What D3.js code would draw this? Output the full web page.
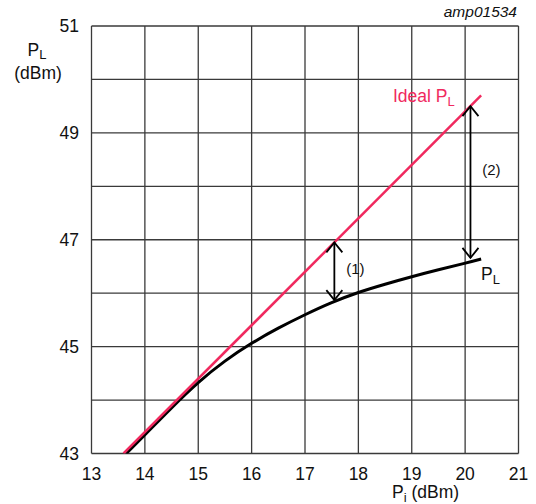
<!DOCTYPE html>
<html>
<head>
<meta charset="utf-8">
<script src="https://cdn.jsdelivr.net/npm/d3@7"></script>
<style>
  body { margin: 0; background: #fff; }
  svg { display: block; font-family: Arial, "Liberation Sans", sans-serif; }
</style>
</head>
<body>
<svg width="536" height="504"></svg>
<script>
// input power (dBm) and output power (dBm)
const xTicks = [13, 14, 15, 16, 17, 18, 19, 20, 21];
const yLabels = [43, 45, 47, 49, 51];
const yGrid = [43, 44, 45, 46, 47, 48, 49, 50, 51];

const idealPi = [13.6, 20.3];
const idealPL = [43.0, 49.7];

const curvePi = [13.65, 14, 14.5, 15, 15.5, 16, 16.5, 17, 17.5, 18, 18.5, 19, 19.5, 20, 20.3];
const curvePL = [43.0, 43.35, 43.86, 44.34, 44.74, 45.07, 45.35, 45.6, 45.83, 46.02, 46.17, 46.31, 46.44, 46.56, 46.64];

// compression arrows: x, from (ideal), to (actual)
const arrows = [
  { x: 17.55, y0: 46.95, y1: 45.87, label: "(1)" },
  { x: 20.1, y0: 49.5, y1: 46.66, label: "(2)" }
];

const svg = d3.select("svg");
const mLeft = 91.5, mRight = 518.5, mTop = 26, mBottom = 453.5;

const x = d3.scaleLinear().domain([13, 21]).range([mLeft, mRight]);
const y = d3.scaleLinear().domain([43, 51]).range([mBottom, mTop]);

const pink = "#f0295e";
const fs = 17.5, sub = 13;

// grid
const grid = svg.append("g").attr("stroke", "#3a3a3a").attr("stroke-width", 1.3);
grid.selectAll("line.v").data(xTicks).enter().append("line")
  .attr("x1", d => x(d)).attr("x2", d => x(d))
  .attr("y1", mTop).attr("y2", mBottom);
grid.selectAll("line.h").data(yGrid).enter().append("line")
  .attr("x1", mLeft).attr("x2", mRight)
  .attr("y1", d => y(d)).attr("y2", d => y(d));

// tick labels
svg.append("g").selectAll("text").data(xTicks).enter().append("text")
  .attr("x", d => x(d)).attr("y", 480)
  .attr("text-anchor", "middle")
  .attr("font-size", fs).attr("fill", "#111")
  .text(d => d);

svg.append("g").selectAll("text").data(yLabels).enter().append("text")
  .attr("x", 79).attr("y", d => y(d) + 6)
  .attr("text-anchor", "end")
  .attr("font-size", fs).attr("fill", "#111")
  .text(d => d);

// axis titles
const yt = svg.append("text").attr("x", 37).attr("y", 56)
  .attr("text-anchor", "middle").attr("font-size", fs).attr("fill", "#111");
yt.append("tspan").text("P");
yt.append("tspan").attr("font-size", sub).attr("dy", 3).text("L");
svg.append("text").attr("x", 38).attr("y", 79)
  .attr("text-anchor", "middle").attr("font-size", fs).attr("fill", "#111")
  .text("(dBm)");

const xt = svg.append("text").attr("x", 392).attr("y", 498)
  .attr("font-size", fs).attr("fill", "#111");
xt.append("tspan").text("P");
xt.append("tspan").attr("font-size", sub).attr("dy", 4).text("i");
xt.append("tspan").attr("dy", -4).text(" (dBm)");

svg.append("text").attr("x", 517).attr("y", 17)
  .attr("text-anchor", "end").attr("font-size", 15.5)
  .attr("font-style", "italic").attr("fill", "#111")
  .text("amp01534");

// clip to plot area
svg.append("clipPath").attr("id", "plot")
  .append("rect").attr("x", mLeft).attr("y", mTop)
  .attr("width", mRight - mLeft).attr("height", mBottom - mTop);

svg.append("path")
  .datum(curvePi.map((v, i) => [v, curvePL[i]]))
  .attr("clip-path", "url(#plot)")
  .attr("fill", "none").attr("stroke", "#000").attr("stroke-width", 3)
  .attr("d", d3.line().x(d => x(d[0])).y(d => y(d[1])).curve(d3.curveBasis));

svg.append("path")
  .datum(idealPi.map((v, i) => [v, idealPL[i]]))
  .attr("clip-path", "url(#plot)")
  .attr("fill", "none").attr("stroke", pink).attr("stroke-width", 2.5)
  .attr("d", d3.line().x(d => x(d[0])).y(d => y(d[1])));

// double headed arrows
const ag = svg.append("g").attr("stroke", "#000").attr("fill", "none").attr("stroke-width", 1.8);
arrows.forEach(a => {
  const px = x(a.x), p0 = y(a.y0), p1 = y(a.y1);
  ag.append("line").attr("x1", px).attr("x2", px).attr("y1", p0).attr("y2", p1);
  ag.append("path").attr("d", `M${px - 8},${p0 + 10} L${px},${p0} L${px + 8},${p0 + 10}`);
  ag.append("path").attr("d", `M${px - 8},${p1 - 10} L${px},${p1} L${px + 8},${p1 - 10}`);
});
svg.append("text").attr("x", x(17.55) + 21).attr("y", y(46.45) + 5)
  .attr("text-anchor", "middle").attr("font-size", 15).attr("fill", "#111")
  .text(arrows[0].label);
svg.append("text").attr("x", x(20.1) + 21).attr("y", y(48.3) + 5)
  .attr("text-anchor", "middle").attr("font-size", 15).attr("fill", "#111")
  .text(arrows[1].label);

// series labels
const il = svg.append("text").attr("x", 393).attr("y", 102)
  .attr("font-size", fs).attr("fill", pink);
il.append("tspan").text("Ideal P");
il.append("tspan").attr("font-size", sub).attr("dy", 4).text("L");

const pl = svg.append("text").attr("x", 481).attr("y", 280)
  .attr("font-size", fs).attr("fill", "#111");
pl.append("tspan").text("P");
pl.append("tspan").attr("font-size", sub).attr("dy", 4).text("L");
</script>
</body>
</html>
